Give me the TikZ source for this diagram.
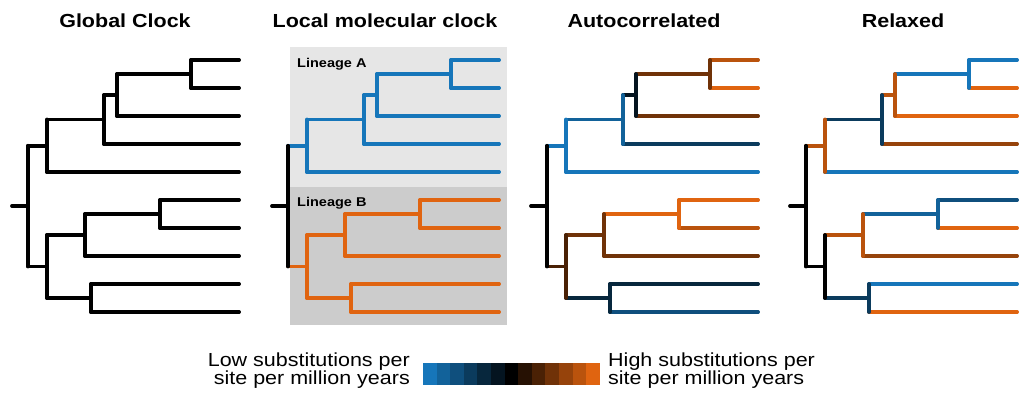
\documentclass[tikz,border=0pt]{standalone}
\usepackage{fontspec}
\setmainfont{Liberation Sans}
\usepackage{tikz}
\usetikzlibrary{positioning}

% rate scale: blue (low) -> black -> orange (high)
\definecolor{rateblue}{RGB}{22,118,186}
\definecolor{rateorange}{RGB}{224,100,16}
\colorlet{r0}{rateblue}
\colorlet{r1}{rateblue!83!black}
\colorlet{r2}{rateblue!67!black}
\colorlet{r3}{rateblue!50!black}
\colorlet{r4}{rateblue!33!black}
\colorlet{r5}{rateblue!17!black}
\colorlet{r6}{black}
\colorlet{r7}{rateorange!17!black}
\colorlet{r8}{rateorange!33!black}
\colorlet{r9}{rateorange!50!black}
\colorlet{r10}{rateorange!67!black}
\colorlet{r11}{rateorange!83!black}
\colorlet{r12}{rateorange}
\definecolor{lineageA}{RGB}{230,230,230}
\definecolor{lineageB}{RGB}{204,204,204}

\newcommand{\squash}[1]{\scalebox{1}[0.88]{#1}}

% node positions of one tree (prefix #1)
\newcommand{\treecoords}[1]{
    \coordinate (#1stub) at (12,206);
    \coordinate (#1root) at (28,206);
    \coordinate (#1A) at (47,145.75);
    \coordinate (#1A1) at (104,119.5);
    \coordinate (#1A2) at (117,95);
    \coordinate (#1A3) at (191,74);
    \coordinate (#1B) at (47,266.5);
    \coordinate (#1B1) at (85,235);
    \coordinate (#1B2) at (160,214);
    \coordinate (#1B3) at (91,298);
    \foreach \j in {1,...,10}
        \coordinate (#1l\j) at (239,32+28*\j);
}

% parent/node/top child/bottom child
\newcommand{\treelist}{stub/root/A/B, root/A/A1/l5, A/A1/A2/l4, A1/A2/A3/l3, A2/A3/l1/l2, A3/l1/l1/l1, A3/l2/l2/l2, A2/l3/l3/l3, A1/l4/l4/l4, A/l5/l5/l5, root/B/B1/B3, B/B1/B2/l8, B1/B2/l6/l7, B2/l6/l6/l6, B2/l7/l7/l7, B1/l8/l8/l8, B/B3/l9/l10, B3/l9/l9/l9, B3/l10/l10/l10}

% #1 prefix, #2 rate index of every branch
\newcommand{\drawtree}[2]{
    \foreach \p/\n/\t/\b [count=\i from 0] in \treelist {
        \pgfmathtruncatemacro{\k}{{#2}[\i]}
        \draw[branch, r\k] (#1\p |- #1\n) -- (#1\n);
    }
    \foreach \p/\n/\t/\b [count=\i from 0] in \treelist {
        \pgfmathtruncatemacro{\k}{{#2}[\i]}
        \draw[branch, r\k] (#1\n |- #1\t) -- (#1\n |- #1\b);
    }
}

\begin{document}
\begin{tikzpicture}[x=1pt, y=-1pt]
    \tikzstyle{branch} = [line width=3.8pt, line cap=round]
    \tikzstyle{title} = [anchor=base, inner sep=0pt, font=\fontsize{21.5}{25}\selectfont\bfseries]
    \tikzstyle{lineage} = [anchor=base west, inner sep=0pt, font=\fontsize{14.5}{17}\selectfont\bfseries]
    \tikzstyle{legend} = [inner sep=0pt, font=\fontsize{21.5}{19.5}\selectfont]

    \useasboundingbox (0,0) rectangle (1036,397);

    % titles
    \node[title] (global) at (125,27) {\squash{Global Clock}};
    \node[title] (local) at (385,27) {\squash{Local molecular clock}};
    \node[title] (auto) at (644,27) {\squash{Autocorrelated}};
    \node[title] (relaxed) at (903,27) {\squash{Relaxed}};

    % global clock
    \treecoords{g}
    \drawtree{g}{6,6,6,6,6,6,6,6,6,6,6,6,6,6,6,6,6,6,6}

    % local clock
    \fill[lineageA] (290,47) rectangle (507,187);
    \fill[lineageB] (290,187) rectangle (507,325);
    \node[lineage] (linA) at (297,67) {\squash{Lineage A}};
    \node[lineage] (linB) at (297,206) {\squash{Lineage B}};
    \begin{scope}[shift={(260,0)}]
        \treecoords{c}
    \end{scope}
    \drawtree{c}{6,0,0,0,0,0,0,0,0,0,12,12,12,12,12,12,12,12,12}

    % autocorrelated
    \begin{scope}[shift={(519,0)}]
        \treecoords{a}
    \end{scope}
    \drawtree{a}{6,0,1,5,9,11,12,9,3,0,8,9,12,12,11,9,4,4,2}

    % relaxed
    \begin{scope}[shift={(778,0)}]
        \treecoords{r}
    \end{scope}
    \drawtree{r}{6,11,3,11,0,0,12,12,10,0,6,11,1,2,12,10,3,0,12}

    % legend
    \foreach \i in {0,...,12}
        \fill[r\i] ({423+13.6*\i},363) rectangle ++(13.8,22);
    \node[legend, anchor=base east] (low) at (410,366)
        {\squash{\begin{tabular}[t]{@{}r@{}}Low substitutions per\\site per million years\end{tabular}}};
    \node[legend, anchor=base west] (high) at (608,366)
        {\squash{\begin{tabular}[t]{@{}l@{}}High substitutions per\\site per million years\end{tabular}}};
\end{tikzpicture}
\end{document}
